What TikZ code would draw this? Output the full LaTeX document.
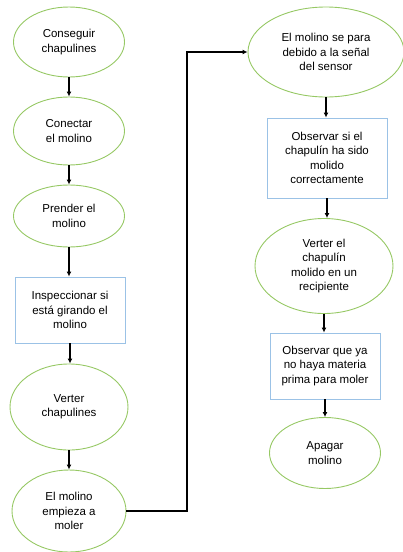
\documentclass[tikz,border=0pt]{standalone}
\usepackage{fontspec}
\setmainfont{Liberation Sans}
\usetikzlibrary{shapes.geometric,arrows.meta}
\definecolor{ovgreen}{RGB}{150,200,100}
\definecolor{rcblue}{RGB}{155,194,230}
\tikzset{
  ov/.style={ellipse,draw=ovgreen,line width=0.9pt,inner sep=0pt,align=center,font=\fontsize{11.5}{14.3}\selectfont},
  rc/.style={rectangle,draw=rcblue,line width=0.9pt,inner sep=0pt,align=center,font=\fontsize{11.5}{14.3}\selectfont},
  arr/.style={-{Latex[length=5pt,width=5pt]},line width=1.1pt,black}
}
\begin{document}
\begin{tikzpicture}[x=1pt,y=-1pt]
\useasboundingbox (0,0) rectangle (403,552);
% left column
\node[ov,minimum width=111,minimum height=70] (e1) at (69,42) {Conseguir\\chapulines};
\node[ov,minimum width=111,minimum height=68] (e2) at (69,131) {Conectar\\el molino};
\node[ov,minimum width=111,minimum height=62] (e3) at (69,216) {Prender el\\molino};
\node[rc,minimum width=110,minimum height=66] (r4) at (70,310) {Inspeccionar si\\está girando el\\molino};
\node[ov,minimum width=118,minimum height=86] (e5) at (69,407) {Verter\\chapulines};
\node[ov,minimum width=114,minimum height=82] (e6) at (69,511) {El molino\\empieza a\\moler};
% right column
\node[ov,minimum width=156,minimum height=90] (e7) at (326,52) {El molino se para\\debido a la señal\\del sensor};
\node[rc,minimum width=120,minimum height=80] (r8) at (327,158) {Observar si el\\chapulín ha sido\\molido\\correctamente};
\node[ov,minimum width=138,minimum height=95] (e9) at (324,266) {Verter el\\chapulín\\molido en un\\recipiente};
\node[rc,minimum width=110,minimum height=66] (r10) at (325,366) {Observar que ya\\no haya materia\\prima para moler};
\node[ov,minimum width=111,minimum height=71] (e11) at (325,453) {Apagar\\molino};
% connectors
\draw[arr] (e1) -- (e2);
\draw[arr] (e2) -- (e3);
\draw[arr] (e3) -- (e3 |- r4.north);
\draw[arr] (r4.south) -- (r4.south |- e5.north);
\draw[arr] (e5) -- (e6);
\coordinate (bend) at (187,0);
\draw[arr] (e6.east) -- (e6.east -| bend) -- (bend |- e7.west) -- (e7.west);
\draw[arr] (e7) -- (e7 |- r8.north);
\draw[arr] (r8.south) -- (r8.south |- e9.north);
\draw[arr] (e9) -- (e9 |- r10.north);
\draw[arr] (r10.south) -- (r10.south |- e11.north);
\end{tikzpicture}
\end{document}
